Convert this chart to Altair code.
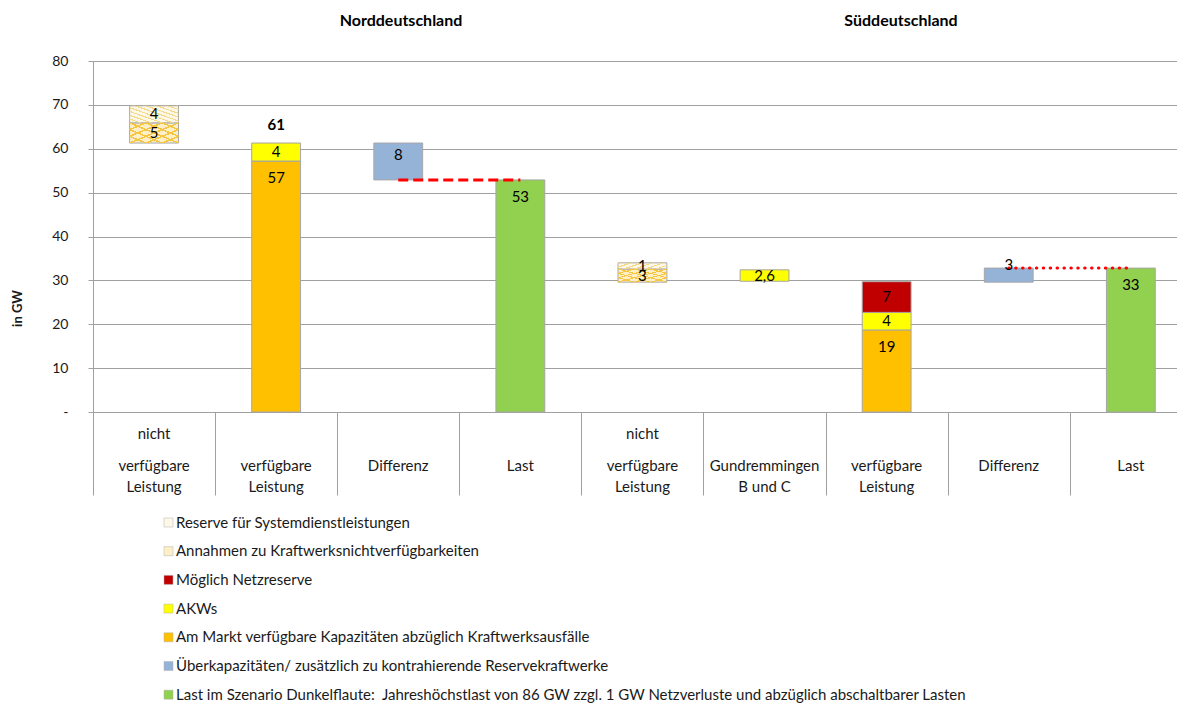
import altair as alt
import pandas as pd

# ---------------- data ----------------
keys = list(range(9))
cat_top = ["nicht", "", "", "", "nicht", "", "", "", ""]
cat_main = [
    "verfügbare\nLeistung",
    "verfügbare\nLeistung",
    "Differenz",
    "Last",
    "verfügbare\nLeistung",
    "Gundremmingen\nB und C",
    "verfügbare\nLeistung",
    "Differenz",
    "Last",
]
region_titles = ["Norddeutschland", "Süddeutschland"]

series = [
    "Reserve für Systemdienstleistungen",
    "Annahmen zu Kraftwerksnichtverfügbarkeiten",
    "Möglich Netzreserve",
    "AKWs",
    "Am Markt verfügbare Kapazitäten abzüglich Kraftwerksausfälle",
    "Überkapazitäten/ zusätzlich zu kontrahierende Reservekraftwerke",
    "Last im Szenario Dunkelflaute: \u00a0Jahreshöchstlast von 86 GW zzgl. 1 GW Netzverluste und abzüglich abschaltbarer Lasten",
]
reserve = [3.9, 0, 0, 0, 1.4, 0, 0, 0, 0]
annahmen = [4.6, 0, 0, 0, 3.0, 0, 0, 0, 0]
netzreserve = [0, 0, 0, 0, 0, 0, 7.0, 0, 0]
akw = [0, 4.1, 0, 0, 0, 2.6, 4.0, 0, 0]
markt = [0, 57.2, 0, 0, 0, 0, 18.7, 0, 0]
ueber = [0, 0, 8.4, 0, 0, 0, 0, 3.2, 0]
last = [0, 0, 0, 52.9, 0, 0, 0, 0, 32.8]
base = [61.3, 0, 52.9, 0, 29.6, 29.8, 0, 29.6, 0]
one_decimal = {(3, 5)}  # (series index, category) shown with one decimal

colors = ["#fdf8e8", "#fdefc8", "#c00000", "#ffff00", "#ffc000", "#95b3d7", "#92d050"]

# stacking order bottom -> top
stack_order = [4, 3, 2, 5, 6, 1, 0]
values = [reserve, annahmen, netzreserve, akw, markt, ueber, last]

rows = []
for k in keys:
    y = base[k]
    for s in stack_order:
        v = values[s][k]
        if v <= 0:
            continue
        if (s, k) in one_decimal:
            lab = f"{v:.1f}".replace(".", ",")
        else:
            lab = str(int(round(v)))
        if s in (4, 6):
            mode = "top17"
        elif s == 5:
            mode = "top12" if k < 4 else "above"
        else:
            mode = "center"
        rows.append({"key": k, "series": series[s], "sidx": s, "y0": y, "y1": y + v,
                     "ym": y + v / 2, "label": lab, "mode": mode})
        y += v
df = pd.DataFrame(rows)

tot_df = pd.DataFrame({"key": [1], "y": [markt[1] + akw[1]],
                       "label": [str(int(round(markt[1] + akw[1])))]})
dash_df = pd.DataFrame({"from": [2], "to": [3], "y": [last[3]]})
dot_df = pd.DataFrame({"from": [7], "to": [8], "y": [last[8]]})
cat_df = pd.DataFrame({"key": keys, "top": cat_top, "main": cat_main})

# ---------------- style ----------------
FONT = "Lato"
GRID = "#a0a0a0"
TXT = "#1a1a1a"
FS = 15
HALF_BAR = 0.2                 # bar is 40 % of a category slot
X_DOMAIN = [-0.5, 8.378]       # last slot is cut by the right edge, as in the original

x_axis = alt.Axis(title=None, labels=False, values=[i - 0.5 for i in range(9)],
                  tickSize=83, tickColor=GRID, domainColor=GRID, grid=False)
x_scale = alt.Scale(domain=X_DOMAIN, nice=False, zero=False)

y_axis = alt.Axis(title="in GW", values=list(range(0, 81, 10)),
                  labelExpr="datum.value === 0 ? '-' : datum.label",
                  grid=True, gridColor=GRID, domainColor=GRID, tickColor=GRID, tickSize=5,
                  labelPadding=20, labelFontSize=14, labelFont=FONT, labelColor=TXT,
                  titleFont=FONT, titleFontSize=13, titleFontWeight="bold", titleColor=TXT,
                  titleAngle=-90, titleX=-76, titleY=247, titleAlign="center",
                  titleBaseline="middle")
y_scale = alt.Scale(domain=[0, 80], nice=False, zero=True)


def X(field):
    return alt.X(f"{field}:Q", scale=x_scale, axis=x_axis)


def Y(field):
    return alt.Y(f"{field}:Q", scale=y_scale, axis=y_axis)


def stripes(n, d, color, rising):
    clear = "rgba(255,255,255,0)"
    stops = [{"offset": 0, "color": clear}]
    for i in range(n + 1):
        t = i / n
        a, b = max(0.0, t - d), min(1.0, t + d)
        stops += [{"offset": a, "color": clear}, {"offset": a, "color": color},
                  {"offset": b, "color": color}, {"offset": b, "color": clear}]
    stops.append({"offset": 1, "color": clear})
    g = {"gradient": "linear", "stops": stops, "x1": 0, "x2": 1}
    if rising:
        g.update({"y1": 1, "y2": 0})
    else:
        g.update({"y1": 0, "y2": 1})
    return g


bar_base = alt.Chart(df).transform_calculate(
    xa=f"datum.key - {HALF_BAR}", xb=f"datum.key + {HALF_BAR}")

bars = bar_base.mark_bar(stroke="#a6a6a6", strokeWidth=1).encode(
    x=X("xa"), x2="xb", y=Y("y0"), y2="y1",
    color=alt.Color("series:N", scale=alt.Scale(domain=series, range=colors),
                    legend=alt.Legend(title=None, orient="none", legendX=68, legendY=454,
                                      direction="vertical", symbolType="square",
                                      symbolSize=81, symbolStrokeWidth=0.5,
                                      symbolStrokeColor="#b0b0b0",
                                      labelFont=FONT, labelFontSize=FS, labelColor=TXT,
                                      labelLimit=2000, rowPadding=12.7, padding=0,
                                      labelOffset=0)),
)

hatch_layers = []
for sname, n, d, col, rising in [
    (series[1], 6, 0.02, "#f6c640", True),
    (series[1], 6, 0.02, "#f6c640", False),
    (series[0], 9, 0.018, "#f3d98a", True),
]:
    hatch_layers.append(
        bar_base.transform_filter(alt.datum.series == sname).mark_bar(
            fill=stripes(n, d, col, rising), strokeWidth=0
        ).encode(x=X("xa"), x2="xb", y=Y("y0"), y2="y1")
    )

txt_kw = dict(font=FONT, fontSize=FS, color="#000000")
lab_center = alt.Chart(df).transform_filter(alt.datum.mode == "center").mark_text(
    baseline="middle", **txt_kw).encode(x=X("key"), y=Y("ym"), text="label:N")
lab_top17 = alt.Chart(df).transform_filter(alt.datum.mode == "top17").mark_text(
    baseline="middle", dy=17, **txt_kw).encode(x=X("key"), y=Y("y1"), text="label:N")
lab_top12 = alt.Chart(df).transform_filter(alt.datum.mode == "top12").mark_text(
    baseline="middle", dy=12, **txt_kw).encode(x=X("key"), y=Y("y1"), text="label:N")
lab_above = alt.Chart(df).transform_filter(alt.datum.mode == "above").mark_text(
    baseline="middle", dy=-3, **txt_kw).encode(x=X("key"), y=Y("y1"), text="label:N")
lab_total = alt.Chart(tot_df).mark_text(baseline="middle", dy=-18, fontWeight="bold",
                                        **txt_kw).encode(x=X("key"), y=Y("y"), text="label:N")

cat_top_text = alt.Chart(cat_df).transform_filter(alt.datum.top != "").mark_text(
    baseline="middle", font=FONT, fontSize=FS, color=TXT).encode(
    x=X("key"), y=alt.value(373), text="top:N")
cat_main_text = alt.Chart(cat_df).mark_text(
    baseline="middle", font=FONT, fontSize=FS, color=TXT, lineBreak="\n",
    lineHeight=21).encode(
    x=X("key"), y=alt.value(405), text="main:N")

dash_rule = alt.Chart(dash_df).mark_rule(color="#ff0000", strokeWidth=3,
                                         strokeDash=[10, 5]).encode(
    x=X("from"), x2="to", y=Y("y"))
dot_rule = alt.Chart(dot_df).mark_rule(color="#ff0000", strokeWidth=3, strokeDash=[0.5, 6.4],
                                       strokeCap="round").encode(
    x=X("from"), x2="to", y=Y("y"))

title_n = alt.Chart(pd.DataFrame({"t": [region_titles[0]]})).mark_text(
    font=FONT, fontSize=16, fontWeight="bold", color="#000000", baseline="middle").encode(
    text="t:N", x=alt.value(308), y=alt.value(-40))
title_s = alt.Chart(pd.DataFrame({"t": [region_titles[1]]})).mark_text(
    font=FONT, fontSize=16, fontWeight="bold", color="#000000", baseline="middle").encode(
    text="t:N", x=alt.value(808), y=alt.value(-40))

chart = alt.layer(
    bars, *hatch_layers, dash_rule, dot_rule,
    lab_center, lab_top17, lab_top12, lab_above, lab_total,
    cat_top_text, cat_main_text, title_n, title_s
).properties(
    width=1084, height=351,
    autosize=alt.AutoSizeParams(type="none"),
    padding={"left": 85, "top": 53, "right": 0, "bottom": 292},
).configure_view(stroke=None).configure(background="white")

chart.save("out.html", embed_options={"renderer": "svg", "actions": False})
